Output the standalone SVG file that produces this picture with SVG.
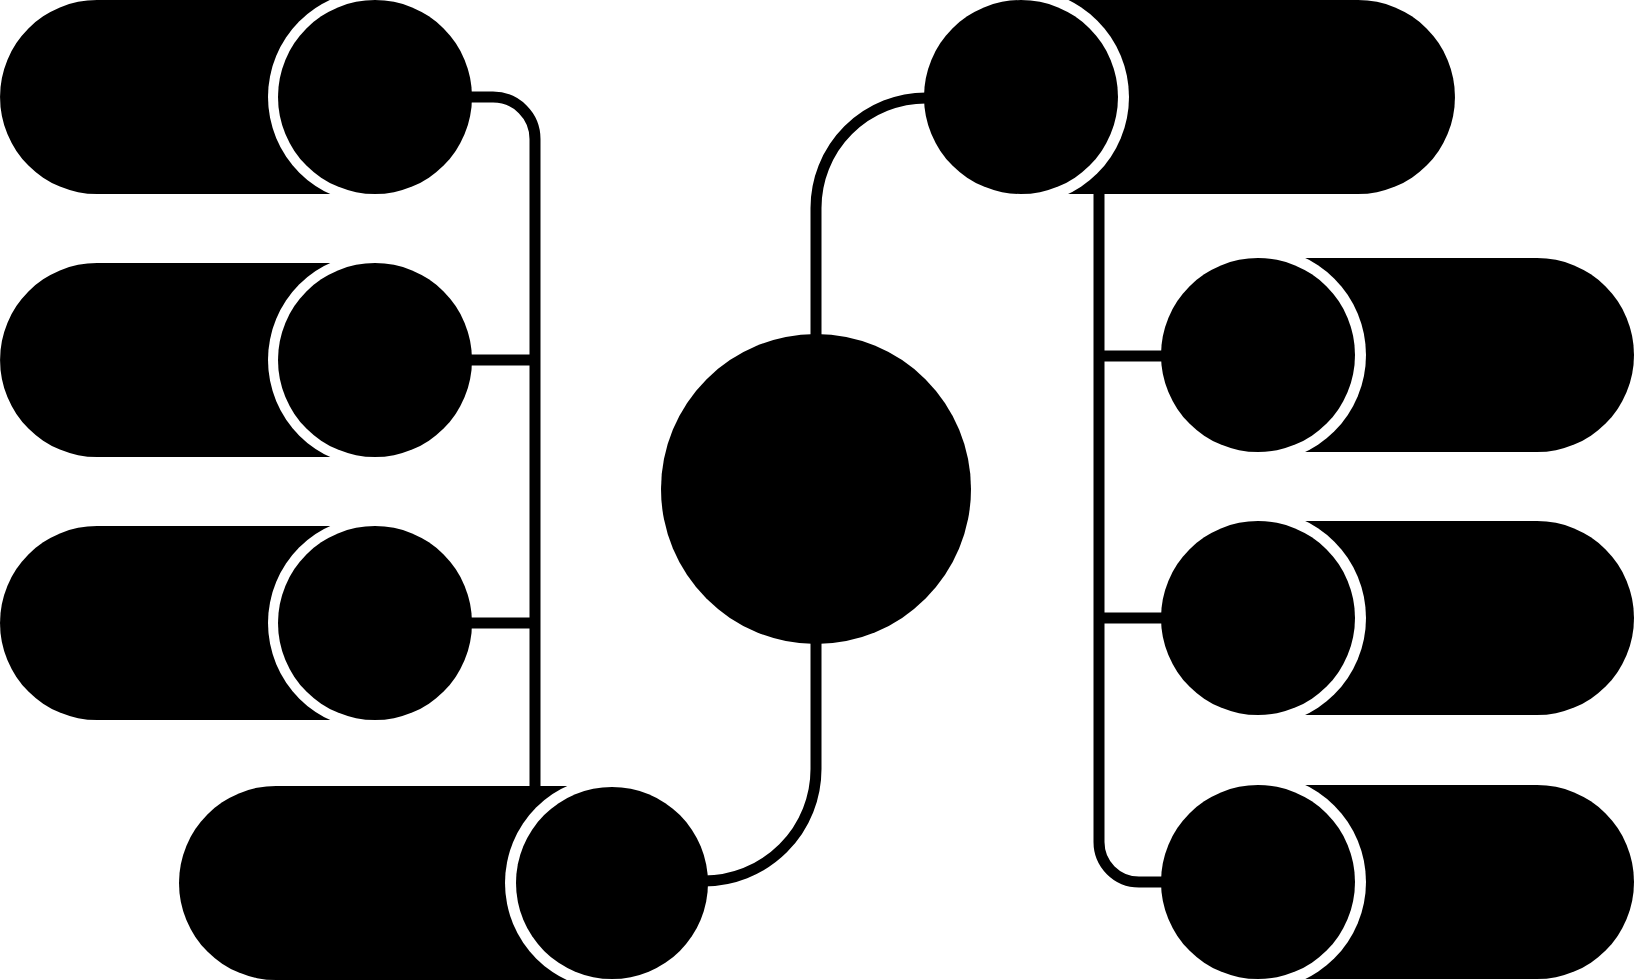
<svg xmlns="http://www.w3.org/2000/svg" width="1635" height="980" viewBox="0 0 1635 980">
<style>
.pill{fill:#000}
.ring{fill:#fff}
.dot{fill:#000}
.hub{fill:#000}
.conn{fill:none;stroke:#000;stroke-width:11}
</style>
<rect x="0" y="0" width="1635" height="980" fill="#fff"/>
<g id="node-l1">
<path class="pill" d="M97 0 H375 V194 H97 A97 97 0 0 1 97 0 Z"/>
<circle class="ring" cx="375" cy="97" r="107"/>
<circle class="dot" cx="375" cy="97" r="97"/>
</g>
<g id="node-l2">
<path class="pill" d="M97 263 H375 V457 H97 A97 97 0 0 1 97 263 Z"/>
<circle class="ring" cx="375" cy="360" r="107"/>
<circle class="dot" cx="375" cy="360" r="97"/>
</g>
<g id="node-l3">
<path class="pill" d="M97 526 H375 V720 H97 A97 97 0 0 1 97 526 Z"/>
<circle class="ring" cx="375" cy="623" r="107"/>
<circle class="dot" cx="375" cy="623" r="97"/>
</g>
<g id="node-l4">
<path class="pill" d="M276 786 H612 V980 H276 A97 97 0 0 1 276 786 Z"/>
<circle class="ring" cx="612" cy="883" r="107"/>
<circle class="dot" cx="612" cy="883" r="96"/>
</g>
<g id="node-center">
<circle class="hub" cx="816" cy="489" r="155"/>
</g>
<g id="node-r1">
<path class="pill" d="M1021 0 H1358 A97 97 0 0 1 1358 194 H1021 Z"/>
<circle class="ring" cx="1021" cy="97" r="108"/>
<circle class="dot" cx="1021" cy="97" r="97"/>
</g>
<g id="node-r2">
<path class="pill" d="M1258 258 H1537 A97 97 0 0 1 1537 452 H1258 Z"/>
<circle class="ring" cx="1258" cy="355" r="108"/>
<circle class="dot" cx="1258" cy="355" r="97"/>
</g>
<g id="node-r3">
<path class="pill" d="M1258 521 H1537 A97 97 0 0 1 1537 715 H1258 Z"/>
<circle class="ring" cx="1258" cy="618" r="108"/>
<circle class="dot" cx="1258" cy="618" r="97"/>
</g>
<g id="node-r4">
<path class="pill" d="M1258 785 H1537 A97 97 0 0 1 1537 979 H1258 Z"/>
<circle class="ring" cx="1258" cy="882" r="108"/>
<circle class="dot" cx="1258" cy="882" r="97"/>
</g>
<g id="connectors">
<path class="conn" d="M468 97 H493 A42 42 0 0 1 535 139 V787"/>
<path class="conn" d="M468 360 H535"/>
<path class="conn" d="M468 623 H535"/>
<path class="conn" d="M704 881 A112 112 0 0 0 816 769 V640"/>
<path class="conn" d="M816 340 V208 A110 110 0 0 1 926 98"/>
<path class="conn" d="M1099 192 V842 A40 40 0 0 0 1139 882 H1165"/>
<path class="conn" d="M1099 356 H1165"/>
<path class="conn" d="M1099 618 H1165"/>
</g>
</svg>
